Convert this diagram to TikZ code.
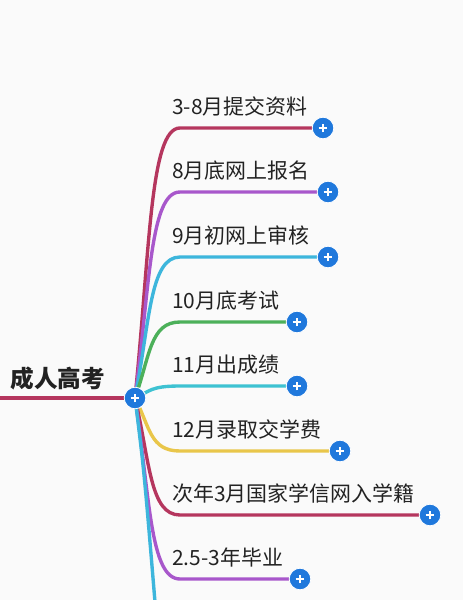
\documentclass[tikz,border=0pt]{standalone}
\usepackage{fontspec}
\setmainfont{Noto Sans CJK SC}
\usetikzlibrary{positioning,calc}
\definecolor{paper}{HTML}{FAFAFA}
\definecolor{ink}{HTML}{222222}
\definecolor{btn}{HTML}{1F78DC}
\definecolor{crim}{HTML}{B5365E}
\definecolor{violet}{HTML}{A857CB}
\definecolor{sky}{HTML}{3DB6DC}
\definecolor{leafgreen}{HTML}{4CB05A}
\definecolor{teal}{HTML}{3EC2D2}
\definecolor{gold}{HTML}{E9C64A}
\pgfdeclarelayer{back}
\pgfsetlayers{back,main}
\begin{document}
\begin{tikzpicture}[x=0.025cm,y=-0.025cm,
  branch/.style={line width=2.4pt,line cap=round},
  plusbtn/.style={circle,fill=btn,draw=white,line width=0.6pt,minimum size=0.54cm,inner sep=0pt,
    path picture={\draw[white,line width=1.4pt]
      ($(path picture bounding box.center)+(-0.11cm,0)$) -- ++(0.22cm,0)
      ($(path picture bounding box.center)+(0,-0.11cm)$) -- ++(0,0.22cm);}},
  leaf/.style={anchor=base west,inner sep=0pt,text=ink,font=\fontsize{14.9}{18}\selectfont},
  rootlbl/.style={text=ink,font=\fontsize{16.8}{20}\selectfont\bfseries}]
\useasboundingbox (0,0) rectangle (463,600);
\begin{pgfonlayer}{back}
\fill[paper] (0,0) rectangle (463,600);
\end{pgfonlayer}
% root
\node[plusbtn] (hub) at (135,398) {};
\node[rootlbl] (root) at (58,378) {成人高考};
\coordinate (rootend) at (0,398);
\begin{pgfonlayer}{back}
\draw[branch,crim,line cap=butt] (rootend) -- (hub);
\end{pgfonlayer}
% branches
\foreach \y/\ex/\c/\t in {128/323/crim/{3-8月提交资料},192/328/violet/{8月底网上报名},
  257/328/sky/{9月初网上审核},322/297/leafgreen/{10月底考试},386/297/teal/{11月出成绩},
  451/340/gold/{12月录取交学费},515/430/crim/{次年3月国家学信网入学籍},579/300/violet/{2.5-3年毕业}}{
  \node[plusbtn] (p\y) at (\ex,\y) {};
  \node[leaf] (t\y) at (172,\y-14) {\t};
  \begin{pgfonlayer}{back}
  \draw[branch,\c] (hub.center) .. controls (150,{398+0.55*(\y-398)}) and (150,\y) .. (180,\y) -- (p\y.center);
  \end{pgfonlayer}
}
% branch running off the page
\coordinate (offpage) at (155,602);
\begin{pgfonlayer}{back}
\draw[branch,sky,line cap=butt] (hub.center) .. controls (144,470) .. (offpage);
\end{pgfonlayer}
\end{tikzpicture}
\end{document}
